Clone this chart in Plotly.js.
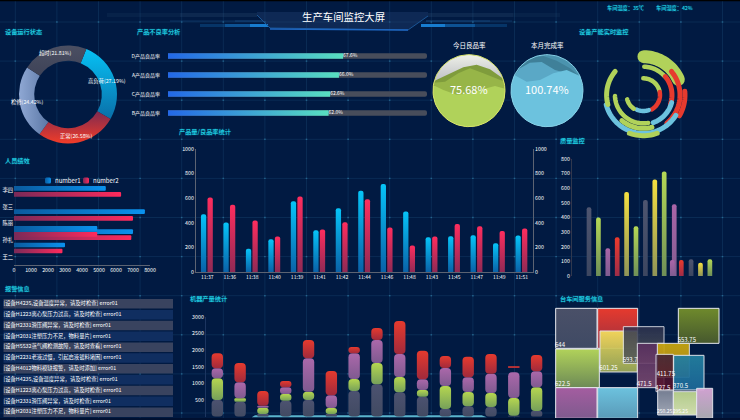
<!DOCTYPE html>
<html><head><meta charset="utf-8">
<script src="https://cdn.plot.ly/plotly-3.0.1.min.js"></script>
<style>html,body{margin:0;padding:0;background:#011a42;overflow:hidden}#c{width:740px;height:420px}</style>
</head><body><div id="c"></div>
<script>
// ---------- data ----------
const statusLabels = ['高负荷','正常','检修','超时'];
const statusValues = [27.19,26.58,24.42,21.81];
const rateLabels = ['D产品良品率','A产品良品率','C产品良品率','B产品良品率'];
const rateValues = [67.6,66.0,62.6,62.0];
const times = ['11:37','11:36','11:38','11:40','11:39','11:41','11:42','11:44','11:46','11:48','11:43','11:45','11:47','11:49','11:51'];
const outputValues = [470,402,190,266,576,340,519,660,715,492,283,291,299,234,296];
const passValues = [606,546,418,288,614,345,405,592,361,215,288,391,372,334,353];
const staffNames = ['王二','孙礼','陈丽','张三','李四'];
const number1Row = [0.7,1.5,1.7,2.7,4.1];
const number2Row = [0.34,1.14,1.34,2.3,3.74];
const number1 = [3000,7000,4900,7700,5400];
const number2 = [2850,6900,4900,7000,6300];
const qualityPos = [0,1,2,3,4,5,6,7,8,9.07,8.86,9.82,10.86,11.86,12.86];
const qualityValues = [470,400,190,265,575,340,520,660,715,490,110,110,115,90,115];
const qualityKinds = [0,1,2,3,4,1,0,4,1,2,2,3,0,4,1];
const machineGrey = [500,450,80,480,500,80,770,970,730,600,230,310,290,30,170];
const machineGreen = [650,100,190,200,250,180,360,640,460,200,690,430,420,530,710];
const machinePurple = [300,480,60,200,1000,380,770,690,690,320,540,440,580,770,480];
const machineRed = [450,580,440,190,550,730,190,360,990,860,360,620,590,50,490];
const machineRedGap = [0,0,0,0,0,0,0,0,0,0,0,0,0,130,0];
const machineCats = times.map((t,i)=>i);
const alertTexts = [
 '[设备H4235,设备温度异常，请及时检查] error01',
 '[设备H1223离心泵压力过高，请及时检查] error01',
 '[设备H2331滑压阀异常，请及时检查] error01',
 '[设备H2031注塑压力不足，物料量片] error01',
 '[设备H5532蒸气阀检测故障，请及时查看] error01',
 '[设备H2231老液过慢，引起启液镀料堵困] error01',
 '[设备H4012物料模缺报警，请及时添加] error01',
 '[设备H4235,设备温度异常，请及时检查] error01',
 '[设备H1223离心泵压力过高，请及时检查] error01',
 '[设备H2331滑压阀异常，请及时检查] error01',
 '[设备H2031注塑压力不足，物料量片] error01'];
const gaugeNames = ['今日良品率','本月完成率'];
const gaugeValues = ['75.68%','100.74%'];
const tileLabels = ['644','622.5','','','','601.25','593.7','553.75','471.5','411.75','427.5','370.5','250.25','295.25',''];
const tileLabelSize = [6,6,6,6,6,6,6,6,6,6,6,6,5,5,6];
const tileLeft  = [17,17,17,143,143,150,220,385,262,322,318,371,323,370,440];
const tileRight = [141,148,141,263,263,262,342,507,342,418,370,462,370,440,488];
const tileTop   = [55,177,293,293,55,123,110,55,160,160,193,196,300,305,295];
const tileBottom= [175,293,385,385,175,246,220,160,293,262,305,300,375,375,385];
const arcRadius = [115,85,50,50,48,50,86,110,125,88,85,115,110,122,100];
const arcStart  = [1,2,0,80,160,215,50,50,85,105,170,122,255,160,165];
const arcEnd    = [66,48,75,150,205,255,108,140,120,160,268,255,310,200,220];
const arcWidth  = [13,4.5,4.5,4.5,4.5,4.5,5,5,5,5,4.5,5,5,5,5];
const arcKind   = [0,0,0,1,2,0,1,1,1,2,0,2,0,0,0];
const waveA1 = [[14,122],[50,105],[100,82],[140,74],[180,88],[222,118]];
const waveA2 = [[10,128],[45,125],[85,100],[120,85],[160,100],[200,115],[224,125]];
const waveA3 = [[9,135],[40,150],[80,164],[120,160],[160,147],[195,138],[225,146]];
const waveB1 = [[300,55],[340,48],[380,62],[420,85],[450,110]];
const waveB2 = [[248,115],[270,85],[300,68],[335,66],[375,90],[410,100],[452,118]];
const waveB3 = [[244,138],[253,105],[290,125],[330,120],[370,100],[410,90],[450,108],[458,135]];

// ---------- helpers ----------
const W=740,H=420;
const dx=(a,b)=>[a/W,b/W];
const dy=(top,bot)=>[1-bot/H,1-top/H];
const F="'Noto Sans CJK SC','Noto Sans',sans-serif";
function ax(o){return Object.assign({showgrid:false,zeroline:false,ticks:'',showline:false,color:'#fff',tickfont:{size:5.3,color:'#fff',family:F},fixedrange:true},o);}
const pal={grey:'#4a5068',green:'#b1d25a',purple:'#a45da0',red:'#e63a2e',yellow:'#f0dc45',blue:'#6cc2de'};
function circle(cx,cy,r){const xs=[],ys=[];for(let a=0;a<=360;a+=4){xs.push(cx+r*Math.cos(a*Math.PI/180));ys.push(cy+r*Math.sin(a*Math.PI/180));}return{x:xs,y:ys};}
function waveFill(pts,cx,cy,r){
  const xs=pts.map(p=>p[0]),ys=pts.map(p=>p[1]);
  const a0=Math.atan2(ys[ys.length-1]-cy,xs[xs.length-1]-cx), a1=Math.atan2(ys[0]-cy,xs[0]-cx);
  const end=a1<a0?a1+2*Math.PI:a1;
  for(let k=0;k<=36;k++){const a=a0+(end-a0)*k/36;xs.push(cx+r*Math.cos(a));ys.push(cy+r*Math.sin(a));}
  return{x:xs,y:ys};
}
function poly(p,color){return Object.assign({type:'scatter',mode:'lines',fill:'toself',fillcolor:color,line:{width:0,color:color},hoverinfo:'skip',showlegend:false,xaxis:'x7',yaxis:'y8'},p);}

// ---------- traces ----------
const traces=[];
traces.push({type:'pie',values:statusValues,labels:statusLabels,sort:false,direction:'clockwise',rotation:22,hole:0.69,
  domain:{x:dx(19,117),y:dy(45.5,143.5)},textinfo:'none',showlegend:false,hoverinfo:'label+percent',
  marker:{colors:['#0aa6e0','#c8303a','#6f8ab8','#454a5e'],line:{width:0}}});

const rateTrack=rateValues.map(()=>100), rateRows=rateLabels.map((t,i)=>i);
traces.push({type:'bar',orientation:'h',x:rateTrack,y:rateRows,width:0.29,marker:{color:'#484d5b',cornerradius:2.6},xaxis:'x',yaxis:'y',showlegend:false,hoverinfo:'skip'});
traces.push({type:'bar',orientation:'h',x:rateValues,y:rateRows,width:0.29,marker:{color:'#2f9ad8',cornerradius:2.6},xaxis:'x',yaxis:'y',showlegend:false});
traces.push({type:'scatter',mode:'text',x:rateValues,y:rateRows,text:rateValues.map(v=>v.toFixed(1)+'%'),textposition:'middle right',textfont:{size:5,color:'#fff',family:F},xaxis:'x',yaxis:'y',showlegend:false,hoverinfo:'skip'});

traces.push({type:'bar',x:times,y:outputValues,width:0.236,offset:-0.28,marker:{color:'#06b4ea',cornerradius:2.6},xaxis:'x2',yaxis:'y2',showlegend:false});
traces.push({type:'bar',x:times,y:passValues,width:0.236,offset:0.012,marker:{color:'#f0305c',cornerradius:2.6},xaxis:'x2',yaxis:'y3',showlegend:false});

traces.push({type:'bar',orientation:'h',name:'number1',x:number1,y:number1Row,width:0.28,marker:{color:'#0a8ee8',cornerradius:1.5},xaxis:'x3',yaxis:'y4'});
traces.push({type:'bar',orientation:'h',name:'number2',x:number2,y:number2Row,width:0.28,marker:{color:'#f02a5c',cornerradius:1.5},xaxis:'x3',yaxis:'y4'});

const kinds=[pal.grey,pal.green,pal.purple,pal.red,pal.yellow];
traces.push({type:'bar',x:qualityPos,y:qualityValues,width:0.5,marker:{color:qualityKinds.map(k=>kinds[k]),cornerradius:2.3},xaxis:'x4',yaxis:'y5',showlegend:false});

const add=(a,b)=>a.map((v,i)=>v+b[i]);
const base1=machineGrey, base2=add(base1,machineGreen), base3=add(base2,machinePurple), base4=add(base3,machineRedGap);
[[machineGrey,machineCats.map(()=>0),pal.grey],[machineGreen,base1,pal.green],[machinePurple,base2,pal.purple],[machineRed,base4,pal.red]].forEach(s=>{
  traces.push({type:'bar',x:machineCats,y:s[0],base:s[1],width:0.5,marker:{color:s[2],cornerradius:4},xaxis:'x5',yaxis:'y6',showlegend:false});
});

const tileColors=['#4a5068','#b1d25a','#a45da0','#6cc2de','#e63a2e','#f3dc5c','#2e3350','#6f8a2c','#5a3060','#c7a60e','#3a1c3a','#237f9f','#7a8296','#bcd48e','#dba9d9'];
const tileOpacity=[1,1,1,1,1,0.95,0.85,1,0.9,0.95,0.85,0.95,0.95,0.95,0.95];
traces.push({type:'bar',x:tileLeft.map((l,i)=>(l+tileRight[i])/2),width:tileLeft.map((l,i)=>tileRight[i]-l),base:tileTop,y:tileBottom.map((b,i)=>b-tileTop[i]),
  marker:{color:tileColors,opacity:tileOpacity,line:{color:'#e6e8ee',width:1}},xaxis:'x6',yaxis:'y7',showlegend:false,hovertext:tileLabels,hoverinfo:'text'});
traces.push({type:'scatter',mode:'text',x:tileLeft.map(l=>l-2),y:tileBottom.map(b=>b-1),text:tileLabels,textposition:'top right',textfont:{size:tileLabelSize,color:'#fff',family:F},xaxis:'x6',yaxis:'y7',showlegend:false,hoverinfo:'skip'});

const c1=circle(117,152,108), c2=circle(351,152,108);
traces.push(poly(c1,'#b8bac0'));
traces.push(poly(waveFill(waveA1,117,152,108),'#7f9c3c'));
traces.push(poly(waveFill(waveA2,117,152,108),'#97b548'));
traces.push(poly(waveFill(waveA3,117,152,108),'#b0d25a'));
traces.push(poly(c2,'#4b93ae'));
traces.push(poly(waveFill(waveB1,351,152,108),'#3f8099'));
traces.push(poly(waveFill(waveB2,351,152,108),'#5aa8c6'));
traces.push(poly(waveFill(waveB3,351,152,108),'#6cc2de'));
traces.push({type:'scatter',mode:'lines',x:c1.x,y:c1.y,line:{color:'#d7e36a',width:1},xaxis:'x7',yaxis:'y8',showlegend:false,hoverinfo:'skip'});
traces.push({type:'scatter',mode:'lines',x:c2.x,y:c2.y,line:{color:'#86d0e6',width:1},xaxis:'x7',yaxis:'y8',showlegend:false,hoverinfo:'skip'});

const alertRows=alertTexts.map((t,i)=>i);
traces.push({type:'bar',orientation:'h',x:alertTexts.map(()=>1),y:alertRows,width:0.88,marker:{color:alertRows.map(i=>i%2?'#102e60':'#39435f')},xaxis:'x8',yaxis:'y9',showlegend:false,hoverinfo:'skip'});
traces.push({type:'scatter',mode:'text',x:alertRows.map(()=>0.001),y:alertRows,text:alertTexts,textposition:'middle right',textfont:{size:5.3,color:'#fff',family:F},xaxis:'x8',yaxis:'y9',showlegend:false,hoverinfo:'skip'});

const arcColor=[pal.green,pal.red,pal.blue];
arcRadius.forEach((r,i)=>{
  const th=[];for(let a=arcStart[i];a<=arcEnd[i];a+=3)th.push(a);th.push(arcEnd[i]);
  traces.push({type:'scatterpolar',mode:'lines',r:th.map(()=>r),theta:th,line:{color:arcColor[arcKind[i]],width:arcWidth[i]},showlegend:false,hoverinfo:'skip',subplot:'polar'});
});

// ---------- background decoration ----------
const P=(x,y)=>(x/W)+' '+(1-y/H);
const shapes=[];
const grid='rgba(45,105,150,0.22)';
const vx=[],hy=[];
for(let k=0;k<18;k++)vx.push(15.3+41.6*k);
for(let k=0;k<11;k++)hy.push(22+39.1*k);
vx.forEach(x=>shapes.push({type:'line',xref:'paper',yref:'paper',x0:x/W,x1:x/W,y0:0,y1:1,line:{color:grid,width:1},layer:'below'}));
hy.forEach(y=>shapes.push({type:'line',xref:'paper',yref:'paper',x0:0,x1:1,y0:1-y/H,y1:1-y/H,line:{color:grid,width:1},layer:'below'}));
vx.forEach(x=>hy.forEach(y=>shapes.push({type:'rect',xref:'paper',yref:'paper',x0:(x-0.8)/W,x1:(x+0.8)/W,y0:1-(y+0.7)/H,y1:1-(y-0.7)/H,fillcolor:'rgba(70,170,210,0.4)',line:{width:0},layer:'below'})));
function path(d,fill,lc,lw,layer){shapes.push({type:'path',xref:'paper',yref:'paper',path:d,fillcolor:fill||'rgba(0,0,0,0)',line:{color:lc||'rgba(0,0,0,0)',width:lw||0},layer:layer||'below'});}
const band=(a,b,t,u,c)=>path('M'+P(a,t)+'L'+P(b,t)+'L'+P(b,u)+'L'+P(a,u)+'Z',c);
path('M'+P(257,15)+'L'+P(270,28)+'L'+P(408,30)+'L'+P(428,16)+'L'+P(428,12)+'L'+P(257,12)+'Z','rgba(35,65,115,0.4)');
band(107,180,13,17,'rgba(70,105,140,0.10)');band(180,257,13,17,'rgba(70,105,140,0.18)');
band(428,513,13,17,'rgba(70,105,140,0.18)');band(513,560,13,17,'rgba(70,105,140,0.1)');
band(170,235,20,22,'rgba(30,90,150,0.2)');band(235,263,20,22,'rgba(30,90,150,0.4)');
band(426,490,20,22,'rgba(30,90,150,0.4)');band(490,512,20,22,'rgba(30,90,150,0.2)');
band(200,225,24,27,'rgba(24,130,215,0.25)');band(225,250,24,27,'rgba(24,130,215,0.55)');band(250,268,24,27,'rgba(24,130,215,0.95)');
band(421,445,24,27,'rgba(24,130,215,0.95)');band(445,475,24,27,'rgba(24,130,215,0.55)');band(475,507,24,27,'rgba(24,130,215,0.25)');
path('M'+P(257,15)+'L'+P(270,28)+'L'+P(408,30)+'L'+P(428,16),null,'#1a5595',1);
path('M'+P(270,29)+'L'+P(408,30),null,'#1f66c0',1.5);
path('M'+P(251.7,417.3)+'L'+P(255,415.3)+'L'+P(481.7,415.3)+'L'+P(486.7,417.3)+'Z','#5ab4cc');
band(0,740,0,1.2,'#000');
shapes.push({type:'rect',xref:'paper',yref:'paper',x0:0,x1:1,y0:0,y1:2/H,fillcolor:'#001030',line:{width:0},layer:'above'});

// ---------- text ----------
const anns=[];
function T(text,x,y,size,color,anchor,shadow){anns.push({xref:'paper',yref:'paper',x:x/W,y:1-y/H,text:text,showarrow:false,xanchor:anchor||'left',yanchor:'middle',font:{size:size,color:color,family:F,shadow:shadow||'none'},borderpad:0});}
const cy='#1fd5e8', glow='0 0 1px rgba(31,213,232,0.9)';
const sec=(t,x,y)=>T(t,x-1.2,y,6.2,cy,'left',glow);
T('生产车间监控大屏',343.5,16.5,10.4,'#fff','center');
sec('设备运行状态',4.7,32);sec('产品不良率分析',137,32);sec('设备产能实时监控',579,32);
sec('产品量/良品率统计',179.6,131);sec('质量监控',560,140.7);sec('人员绩效',5,160);
sec('报警信息',5,288);sec('机器产量统计',190,298);sec('台车间服务信息',560,298);
T('车间温度：35℃',605.7,8,5.2,cy,'left',glow);T('车间湿度：42%',655,8,5.2,cy,'left',glow);
T(statusLabels[0]+'('+statusValues[0]+'%)',107,81,5.3,'#fff','center');
T(statusLabels[1]+'('+statusValues[1]+'%)',76,136,5.3,'#fff','center');
T(statusLabels[2]+'('+statusValues[2]+'%)',27,102,5.3,'#fff','center');
T(statusLabels[3]+'('+statusValues[3]+'%)',55,53,5.3,'#fff','center');
T(gaugeNames[0],469,45,6.5,'#fff','center');T(gaugeNames[1],547,45,6.5,'#fff','center');
T(gaugeValues[0],469,89,11,'#fff','center');T(gaugeValues[1],547,89,11,'#fff','center');

// ---------- layout ----------
const line={showline:true,linecolor:'#5c6372',linewidth:1};
const layout={width:W,height:H,margin:{l:0,r:0,t:0,b:0},paper_bgcolor:'#011a42',plot_bgcolor:'rgba(0,0,0,0)',barmode:'overlay',
 font:{family:F,color:'#fff'},shapes:shapes,annotations:anns,
 showlegend:true,
 legend:{orientation:'h',x:39/W,y:1-166/H,xanchor:'left',yanchor:'top',bgcolor:'rgba(0,0,0,0)',font:{size:6,color:'#fff',family:F},entrywidth:38,entrywidthmode:'pixels',itemwidth:30,traceorder:'normal'},
 xaxis:ax({domain:dx(168,427),range:[0,100],visible:false,anchor:'y'}),
 yaxis:ax({domain:dy(46.5,122.5),range:[3.5,-0.5],anchor:'x',tickvals:rateRows,ticktext:rateLabels,tickfont:{size:5,color:'#fff',family:F},ticklen:6,ticks:'outside',tickcolor:'rgba(0,0,0,0)'}),
 xaxis2:ax(Object.assign({domain:dx(196,533),type:'category',categoryorder:'array',categoryarray:times,range:[-0.5,14.5],anchor:'y2',tickfont:{size:5,color:'#fff',family:F}},line)),
 yaxis2:ax(Object.assign({domain:dy(149,272),range:[0,1000],dtick:200,anchor:'x2'},line)),
 yaxis3:ax(Object.assign({domain:dy(149,272),range:[0,1000],dtick:200,anchor:'x2',overlaying:'y2',side:'right'},line)),
 xaxis3:ax(Object.assign({domain:dx(14,150),range:[0,8000],dtick:1000,anchor:'y4'},line)),
 yaxis4:ax({domain:dy(181.7,265),range:[-0.5,4.5],anchor:'x3',tickvals:[0,1,2,3,4],ticktext:staffNames}),
 xaxis4:ax({domain:dx(572,725),range:[-1.81,14.47],visible:false,anchor:'y5'}),
 yaxis5:ax({domain:dy(159,276),range:[0,800],dtick:100,anchor:'x4',showline:true,linecolor:'#30384e',linewidth:1}),
 xaxis5:ax({domain:dx(205.9,548),range:[-0.5,14.5],visible:false,anchor:'y6'}),
 yaxis6:ax({domain:dy(316.7,416.7),range:[0,3000],dtick:500,anchor:'x5',showline:true,linecolor:'#1c3560',linewidth:1}),
 xaxis6:ax({domain:dx(550,740),range:[0,570],visible:false,anchor:'y7'}),
 yaxis7:ax({domain:dy(290,420),range:[390,0],visible:false,anchor:'x6'}),
 xaxis7:ax({domain:dx(430,590),range:[0,480],visible:false,anchor:'y8'}),
 yaxis8:ax({domain:dy(40,135),range:[285,0],visible:false,anchor:'x7'}),
 xaxis8:ax({domain:dx(3.3,173),range:[0,1],visible:false,anchor:'y9'}),
 yaxis9:ax({domain:dy(298.4,417.6),range:[10.5,-0.5],visible:false,anchor:'x8'}),
 polar:{domain:{x:dx(596.6,690),y:dy(48.3,141.7)},bgcolor:'rgba(0,0,0,0)',
   radialaxis:{visible:false,range:[0,140]},angularaxis:{visible:false,rotation:90,direction:'clockwise'}}
};

// ---------- gradients applied to what the library has drawn ----------
let gid=0;
function gradient(c0,c1,dir){
  const svg=document.querySelector('#c svg.main-svg');
  const defs=svg.querySelector('defs');
  const NS='http://www.w3.org/2000/svg';
  const g=document.createElementNS(NS,'linearGradient');const id='grad'+(++gid);g.setAttribute('id',id);
  const v=dir||[0,0,0,1];g.setAttribute('x1',v[0]);g.setAttribute('y1',v[1]);g.setAttribute('x2',v[2]);g.setAttribute('y2',v[3]);
  [[0,c0],[1,c1]].forEach(s=>{const st=document.createElementNS(NS,'stop');st.setAttribute('offset',s[0]);st.setAttribute('stop-color',s[1]);g.appendChild(st);});
  defs.appendChild(g);return 'url(#'+id+')';
}
const gd=document.getElementById('c');
Plotly.newPlot(gd,traces,layout,{staticPlot:true,displayModeBar:false}).then(()=>{
  const barPaths=(sub,t)=>{const tr=gd.querySelectorAll('.'+sub+' .barlayer .trace')[t];return tr?Array.from(tr.querySelectorAll('path')):[];};
  const paint=(list,fill)=>list.forEach(p=>{p.style.fill=fill;});
  const sl=gd.querySelectorAll('.pielayer .slice path.surface');
  const pg=[['#06c2f5','#0a6fa8',[0,0,0,1]],['#7e2a50','#f23c28',[0,0,0,1]],['#5c78a6','#8fa8d4',[1,0,0,0]],['#4b4f62','#3e4358',[0,0,0,1]]];
  sl.forEach((p,i)=>{p.style.fill=gradient(pg[i][0],pg[i][1],pg[i][2]);});
  paint(barPaths('xy',1),gradient('#2368e8','#58dfc0',[0,0,1,0]));
  paint(barPaths('x2y2',0),gradient('#06c4f8','#0a62a8'));
  paint(barPaths('x2y3',0),gradient('#ff2d5e','#8f2a55'));
  paint(barPaths('x3y4',0),gradient('#0a5a9e','#0a92ee',[0,0,1,0]));
  paint(barPaths('x3y4',1),gradient('#7a2a58','#ff2a5c',[0,0,1,0]));
  const qb=[['#4e5570','#3c4660'],['#b5d955','#6f8f58'],['#ab65a8','#7f5c90'],['#ec3a2c','#9e2c48'],['#f5e040','#8f9458']];
  barPaths('x4y5',0).forEach((p,i)=>{const q=qb[qualityKinds[i]];p.style.fill=gradient(q[0],q[1]);});
  const mg=[['#4c5270','#414a62'],['#b5d650','#76a05a'],['#ab68aa','#7f5a90'],['#e63a2e','#a02a3c']];
  mg.forEach((m,i)=>paint(barPaths('x5y6',i),gradient(m[0],m[1])));
  const tileBottomColor=['#3f4a64','#6d8a56','#7e5a8e','#5a9ab8','#9a3040','#9aa858','#555a58','#46582e','#7a4a70','#b08820','#5a0f28','#1c6798','#a8aebb','#dbe7b5','#b0b0b5'];
  barPaths('x6y7',0).forEach((p,i)=>{p.style.fill=gradient(tileColors[i],tileBottomColor[i]);});
  const g0=gd.querySelectorAll('.x7y8 .scatterlayer .trace')[0];
  if(g0)g0.querySelectorAll('path.js-fill').forEach(p=>{p.style.fill=gradient('#eef0e8','#6a6c88');});
  gd.querySelectorAll('.polar .scatterlayer path.js-line').forEach(p=>{p.style.strokeLinecap='round';});
  // compact legend entries
  const legendItems=gd.querySelectorAll('.legend .traces');
  legendItems.forEach((it,i)=>{
    const m=(it.getAttribute('transform')||'').match(/,\s*([-\d.]+)/);
    it.setAttribute('transform','translate('+(38*i)+','+(m?m[1]:0)+')');
    const pts=it.querySelector('.legendpoints');if(pts)pts.setAttribute('transform','translate(-1,0) scale(0.5)');
    const tx=it.querySelector('.legendtext');if(tx){tx.setAttribute('x',16);tx.querySelectorAll('tspan').forEach(s=>{if(s.hasAttribute('x'))s.setAttribute('x',16);});}
    const sw=it.querySelector('.legendpoints path');
    if(sw)sw.style.fill=i?gradient('#7a2a58','#ff2a5c',[0,0,1,0]):gradient('#0a5a9e','#0a92ee',[0,0,1,0]);
  });
});
</script></body></html>
